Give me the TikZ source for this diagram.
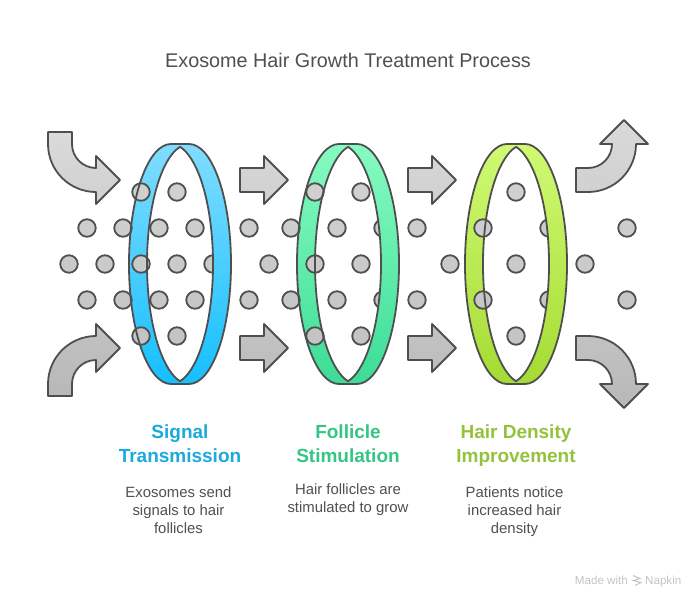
\documentclass[tikz,border=0pt]{standalone}
\usepackage{fontspec}
\setmainfont{Liberation Sans}
\definecolor{ink}{HTML}{4F4F4F}
\definecolor{txt}{HTML}{505050}
\definecolor{bluet}{HTML}{1CA9DC}
\definecolor{greent}{HTML}{35C585}
\definecolor{limet}{HTML}{94C23C}
\definecolor{foot}{HTML}{C4C4C4}
\definecolor{ba}{HTML}{80DDFF}\definecolor{bb}{HTML}{15BFFF}
\definecolor{ga}{HTML}{86FBC1}\definecolor{gb}{HTML}{3DDC97}
\definecolor{la}{HTML}{CFFA72}\definecolor{lb}{HTML}{A5DB33}
\definecolor{d192}{HTML}{D0D0D0}
\definecolor{d228}{HTML}{CDCDCD}
\definecolor{d264}{HTML}{CACACA}
\definecolor{d300}{HTML}{C7C7C7}
\definecolor{d336}{HTML}{C4C4C4}
\definecolor{cta}{HTML}{DADADA}\definecolor{ctb}{HTML}{D0D0D0}
\definecolor{cba}{HTML}{C2C2C2}\definecolor{cbb}{HTML}{B8B8B8}
\definecolor{sta}{HTML}{D6D6D6}\definecolor{stb}{HTML}{D0D0D0}
\definecolor{sba}{HTML}{C3C3C3}\definecolor{sbb}{HTML}{BDBDBD}
\tikzset{
  outl/.style={draw=ink,line width=1.8pt,line join=round},
  dotn/.style={circle,draw=ink,line width=1.8pt,inner sep=0pt,minimum size=17.5pt},
  head/.style={font=\fontsize{19}{24}\selectfont\bfseries,align=center,inner sep=0pt},
  body/.style={font=\fontsize{14.9}{18}\selectfont,text=txt,align=center,inner sep=0pt},
}
\newcommand{\outerpath}{(-9,144) -- (9,144) arc[start angle=-90,end angle=90,x radius=42,y radius=120] -- (-9,384) arc[start angle=90,end angle=270,x radius=42,y radius=120] -- cycle}
\newcommand{\lenspath}{(0,146.8) arc[start angle=-102.37,end angle=-257.63,x radius=42,y radius=120] arc[start angle=77.63,end angle=-77.63,x radius=42,y radius=120] -- cycle}
\newcommand{\ringback}[3]{\begin{scope}[xshift=#1pt]
  \shade[top color=#2,bottom color=#3] \outerpath;
  \fill[white] \lenspath;
\end{scope}}
\newcommand{\ringfront}[3]{\begin{scope}[xshift=#1pt]
  \shade[top color=#2,bottom color=#3] (-9,144) -- (9,144) arc[start angle=-90,end angle=90,x radius=42,y radius=120] -- (-9,384) arc[start angle=90,end angle=-90,x radius=42,y radius=120] -- cycle;
  \draw[outl] \outerpath;
  \draw[outl] \lenspath;
\end{scope}}
% curved arrow: clip to the outline, shade a rectangle, then stroke the outline
\newcommand{\bentarrow}[6]{%
  \begin{scope}\clip #1;
    \shade[top color=#2,bottom color=#3] (#4,#5) rectangle (#4+72,#5+#6);
  \end{scope}
  \draw[outl] #1;}
\begin{document}
\begin{tikzpicture}[x=1pt,y=1pt,yscale=-1]
\useasboundingbox (0,0) rectangle (696,598);
\fill[white] (0,0) rectangle (696,598);

\node[font=\fontsize{19.8}{24}\selectfont,text=txt,inner sep=0pt] (title) at (348,60) {Exosome Hair Growth Treatment Process};

% curved arrows
\bentarrow{(48,132) -- (48,144) arc[start angle=180,end angle=90,radius=48] -- (96,204) -- (120,180) -- (96,156) -- (96,168) arc[start angle=90,end angle=180,radius=24] -- (72,132) -- cycle}{cta}{ctb}{48}{132}{72}
\bentarrow{(48,396) -- (48,384) arc[start angle=180,end angle=270,radius=48] -- (96,324) -- (120,348) -- (96,372) -- (96,360) arc[start angle=270,end angle=180,radius=24] -- (72,384) -- (72,396) -- cycle}{cba}{cbb}{48}{324}{72}
\bentarrow{(576,168) -- (588,168) arc[start angle=90,end angle=0,radius=24] -- (600,144) -- (624,120) -- (648,144) -- (636,144) arc[start angle=0,end angle=90,radius=48] -- (576,192) -- cycle}{cta}{ctb}{576}{120}{72}
\bentarrow{(576,360) -- (588,360) arc[start angle=270,end angle=360,radius=24] -- (600,384) -- (624,408) -- (648,384) -- (636,384) arc[start angle=0,end angle=-90,radius=48] -- (576,336) -- cycle}{cba}{cbb}{576}{336}{72}

% straight arrows
\foreach \x in {240,408}{
  \draw[outl,top color=sta,bottom color=stb] (\x,168) -- (\x+24,168) -- (\x+24,156) -- (\x+48,180) -- (\x+24,204) -- (\x+24,192) -- (\x,192) -- cycle;
  \draw[outl,top color=sba,bottom color=sbb] (\x,336) -- (\x+24,336) -- (\x+24,324) -- (\x+48,348) -- (\x+24,372) -- (\x+24,360) -- (\x,360) -- cycle;
}

\ringback{180}{ba}{bb}
\ringback{348}{ga}{gb}
\ringback{516}{la}{lb}

% particles
\foreach \x in {141,177,315,361,516}{\node[dotn,fill=d192] (p\x-192) at (\x,192) {};}
\foreach \x in {87,123,159,195,249,291,337,383,417,483,549,627}{\node[dotn,fill=d228] (p\x-228) at (\x,228) {};}
\foreach \x in {69,105,141,177,213,269,315,361,450,516,585}{\node[dotn,fill=d264] (p\x-264) at (\x,264) {};}
\foreach \x in {87,123,159,195,249,291,337,383,417,483,549,627}{\node[dotn,fill=d300] (p\x-300) at (\x,300) {};}
\foreach \x in {141,177,315,361,516}{\node[dotn,fill=d336] (p\x-336) at (\x,336) {};}

\ringfront{180}{ba}{bb}
\ringfront{348}{ga}{gb}
\ringfront{516}{la}{lb}

% labels
\node[head,text=bluet] (h1) at (180,445.7) {\strut Signal\\Transmission\strut};
\node[head,text=greent] (h2) at (348,445.7) {\strut Follicle\\Stimulation\strut};
\node[head,text=limet] (h3) at (516,445.7) {\strut Hair Density\\Improvement\strut};
\node[body] (b1) at (178.5,511.5) {\strut Exosomes send\\signals to hair\\follicles\strut};
\node[body] (b2) at (348,499.4) {\strut Hair follicles are\\stimulated to grow\strut};
\node[body] (b3) at (514.5,511.5) {\strut Patients notice\\increased hair\\density\strut};

% footer
\node[font=\fontsize{11.6}{13}\selectfont,text=foot,inner sep=0pt,anchor=base east] (f1) at (628,584.5) {Made with};
\node[font=\fontsize{11.6}{13}\selectfont,text=foot,inner sep=0pt,anchor=base west] (f2) at (645,584.5) {Napkin};
\draw[foot,line width=1pt] (633,575.5) -- (640,578.5) -- (633,580.5) -- (641,582.5) -- (635,585.5);
\end{tikzpicture}
\end{document}
